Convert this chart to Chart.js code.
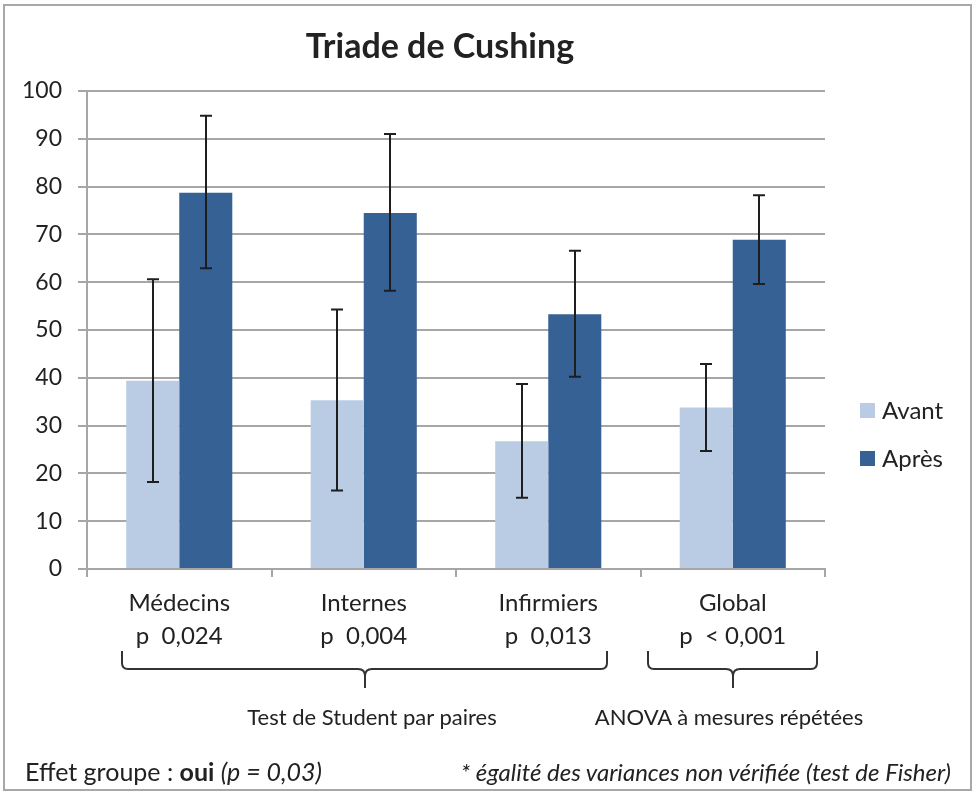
<!DOCTYPE html>
<html>
<head>
<meta charset="utf-8">
<script src="https://cdn.jsdelivr.net/npm/chart.js@4.4.1/dist/chart.umd.min.js"></script>
<style>
  html, body { margin: 0; padding: 0; background: #fff; }
  body { width: 973px; height: 791px; position: relative; overflow: hidden; font-family: Lato, "Open Sans", sans-serif; color: #222; }
  #frame { position: absolute; left: 3px; top: 4px; width: 965px; height: 783px; border: 2px solid #a8a8a8; }
  #wrap { position: absolute; left: 0; top: 0; width: 973px; height: 791px; }
  .txt { position: absolute; white-space: nowrap; line-height: 1; }
  #title { left: 440px; top: 28px; transform: translateX(-50%); font-size: 34px; font-weight: bold; }
  .leg { position: absolute; font-size: 24px; line-height: 1; }
  .leg span { display: inline-block; width: 15px; height: 15px; margin-right: 7px; vertical-align: 1px; }
  svg { position: absolute; left: 0; top: 0; }
</style>
</head>
<body>
<div id="frame"></div>
<div id="wrap"><canvas id="chart"></canvas></div>
<div class="txt" id="title">Triade de Cushing</div>
<div class="leg" style="left:860px; top:398px;"><span style="background:#b9cce4"></span>Avant</div>
<div class="leg" style="left:860px; top:446px;"><span style="background:#356194"></span>Après</div>
<svg width="973" height="791">
  <g fill="none" stroke="#333" stroke-width="2">
    <path d="M122,651 L122,663 Q122,669 128,669 L358,669 Q365,669 365,676 L365,688 M365,676 Q365,669 372,669 L601,669 Q607,669 607,663 L607,651"/>
    <path d="M648,651 L648,663 Q648,669 654,669 L726,669 Q733,669 733,676 L733,688 M733,676 Q733,669 740,669 L811,669 Q817,669 817,663 L817,651"/>
  </g>
</svg>
<div class="txt" style="left:372px; top:706px; transform:translateX(-50%); font-size:22px;">Test de Student par paires</div>
<div class="txt" style="left:729px; top:706px; transform:translateX(-50%); font-size:22px;">ANOVA à mesures répétées</div>
<div class="txt" style="left:25px; top:759px; font-size:25px;">Effet groupe : <b>oui</b> <i>(p = 0,03)</i></div>
<div class="txt" style="right:22px; top:760px; font-size:24px; font-style:italic;">* égalité des variances non vérifiée (test de Fisher)</div>
<script>
// catégories et valeurs
const categories = [
  ["Médecins", "p  0,024"],
  ["Internes", "p  0,004"],
  ["Infirmiers", "p  0,013"],
  ["Global", "p  < 0,001"]
];
const avant = [39.4, 35.3, 26.7, 33.8];
const apres = [78.7, 74.5, 53.3, 68.9];
const avantLow = [18.2, 16.4, 14.9, 24.7];
const avantHigh = [60.6, 54.3, 38.7, 42.9];
const apresLow = [62.9, 58.2, 40.2, 59.6];
const apresHigh = [94.8, 91.0, 66.6, 78.2];
const yTicks = [0, 10, 20, 30, 40, 50, 60, 70, 80, 90, 100];

const errors = [
  { low: avantLow, high: avantHigh },
  { low: apresLow, high: apresHigh }
];

// barres d'erreur
const errorBars = {
  id: "errorBars",
  afterDatasetsDraw(chart) {
    const ctx = chart.ctx;
    const y = chart.scales.y;
    ctx.save();
    ctx.strokeStyle = "#1e1e1e";
    ctx.lineWidth = 2;
    chart.data.datasets.forEach((ds, i) => {
      const meta = chart.getDatasetMeta(i);
      meta.data.forEach((bar, j) => {
        const x = Math.round(bar.x);
        const top = y.getPixelForValue(errors[i].high[j]);
        const bot = y.getPixelForValue(errors[i].low[j]);
        ctx.beginPath();
        ctx.moveTo(x, top); ctx.lineTo(x, bot);
        ctx.moveTo(x - 6, top); ctx.lineTo(x + 6, top);
        ctx.moveTo(x - 6, bot); ctx.lineTo(x + 6, bot);
        ctx.stroke();
      });
    });
    ctx.restore();
  }
};

document.addEventListener("DOMContentLoaded", () => {
  Chart.defaults.font.family = "Lato, 'Open Sans', sans-serif";
  Chart.defaults.color = "#222";

  new Chart(document.getElementById("chart"), {
    type: "bar",
    data: {
      labels: categories,
      datasets: [
        { label: "Avant", data: avant, backgroundColor: "#b9cce4" },
        { label: "Après", data: apres, backgroundColor: "#356194" }
      ]
    },
    options: {
      responsive: true,
      maintainAspectRatio: false,
      animation: false,
      categoryPercentage: 0.575,
      barPercentage: 1,
      layout: { padding: { top: 91, left: 0, right: 148, bottom: 0 } },
      plugins: {
        legend: { display: false },
        tooltip: { enabled: false }
      },
      scales: {
        x: {
          grid: { drawOnChartArea: false, drawTicks: true, tickLength: 8, color: "#a6a6a6", lineWidth: 2 },
          border: { color: "#a6a6a6", width: 2 },
          ticks: { font: { size: 24, lineHeight: 1.38 }, padding: 10, maxRotation: 0 },
          afterFit: (s) => { s.height = 222; }
        },
        y: {
          min: 0,
          max: 100,
          afterBuildTicks: (s) => { s.ticks = yTicks.map(v => ({ value: v })); },
          grid: { color: "#a6a6a6", lineWidth: 2, tickLength: 9 },
          border: { color: "#a6a6a6", width: 2 },
          ticks: { font: { size: 23 }, padding: 16 },
          afterFit: (s) => { s.width = 87; }
        }
      }
    },
    plugins: [errorBars]
  });
});
</script>
</body>
</html>
